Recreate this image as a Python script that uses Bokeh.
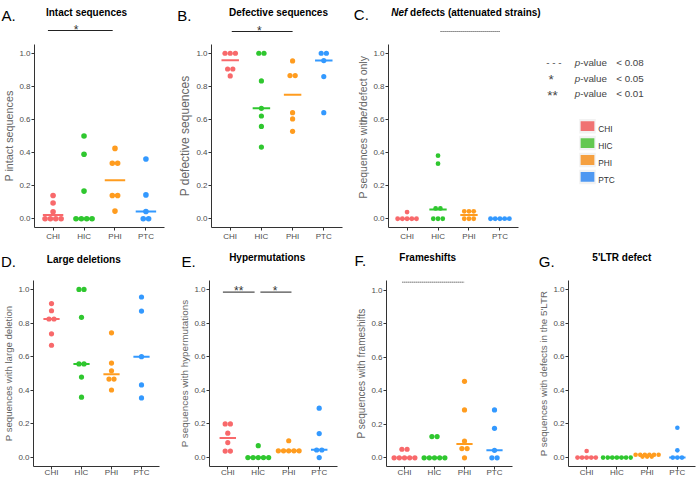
import math
from bokeh.plotting import figure
from bokeh.models import Range1d, FixedTicker, PrintfTickFormatter, Label, Arrow
from bokeh.layouts import column, row
from bokeh.embed import file_html
from bokeh.resources import INLINE
from bokeh.core.properties import value

# ---------------- data ----------------
groups = ["CHI", "HIC", "PHI", "PTC"]
group_colors = ["#F8696B", "#2FC72F", "#FF9C1F", "#3399FF"]
legend_colors = ["#F07373", "#63C850", "#F5A040", "#4E98F2"]
y_ticks = [0.0, 0.2, 0.4, 0.6, 0.8, 1.0]

intact = {
    "CHI": [0, 0, 0, 0, 0.042, 0.095, 0.14],
    "HIC": [0, 0, 0, 0, 0.167, 0.39, 0.5],
    "PHI": [0.046, 0.14, 0.14, 0.335, 0.335, 0.425],
    "PTC": [0, 0, 0.044, 0.144, 0.361],
}
intact_median = [0.022, 0.0, 0.232, 0.044]

defective = {
    "CHI": [0.863, 0.905, 0.905, 1.0, 1.0, 1.0],
    "HIC": [0.433, 0.558, 0.621, 0.667, 0.833, 1.0, 1.0],
    "PHI": [0.528, 0.603, 0.641, 0.865, 0.865, 0.954],
    "PTC": [0.641, 0.859, 0.956, 1.0, 1.0],
}
defective_median = [0.958, 0.667, 0.75, 0.956]

nef_only = {
    "CHI": [0, 0, 0, 0, 0, 0.04],
    "HIC": [0, 0, 0, 0.062, 0.062, 0.333, 0.381],
    "PHI": [0, 0, 0, 0.045, 0.045, 0.045],
    "PTC": [0, 0, 0, 0, 0],
}
nef_median = [0.0, 0.056, 0.022, 0.0]

large_deletion = {
    "CHI": [0.668, 0.736, 0.824, 0.824, 0.873, 0.916],
    "HIC": [0.359, 0.479, 0.557, 0.557, 0.834, 1.0, 1.0],
    "PHI": [0.402, 0.467, 0.467, 0.516, 0.562, 0.742],
    "PTC": [0.355, 0.432, 0.6, 0.871, 0.955],
}
large_median = [0.824, 0.557, 0.496, 0.6]

hypermutation = {
    "CHI": [0.039, 0.039, 0.089, 0.145, 0.2, 0.2],
    "HIC": [0, 0, 0, 0, 0, 0.071],
    "PHI": [0.04, 0.04, 0.04, 0.04, 0.04, 0.1],
    "PTC": [0, 0.045, 0.045, 0.143, 0.294],
}
hyper_median = [0.116, 0.0, 0.04, 0.046]

frameshift = {
    "CHI": [0, 0, 0, 0, 0, 0.051, 0.051],
    "HIC": [0, 0, 0, 0, 0, 0.127, 0.127],
    "PHI": [0, 0.055, 0.055, 0.1, 0.286, 0.457],
    "PTC": [0, 0, 0.045, 0.176, 0.286],
}
frameshift_median = [0.0, 0.0, 0.083, 0.045]

ltr_defect = {
    "CHI": [0, 0, 0, 0, 0, 0.039],
    "HIC": [0, 0, 0, 0, 0, 0, 0],
    "PHI": [0.006, 0.006, 0.006, 0.017, 0.017, 0.017, 0.017, 0.017, 0.017],
    "PTC": [0, 0, 0, 0.043, 0.177],
}
ltr_median = [0.0, 0.0, 0.012, 0.0]

# ---------------- layout helpers ----------------
FONT = "Liberation Sans"
TOP_STRIP_H = 40      # title strip above the top panels
TOP_H = 245           # total height of the top block
BOT_STRIP_H = 33
TOTAL_W, TOTAL_H = 696, 479
CL_W = 20             # width of the strip holding panel C's y label

ARIAL = {' ': 278, 'P': 667, 's': 500, 'e': 556, 'q': 556, 'u': 556, 'n': 556, 'c': 500,
         'w': 722, 'i': 222, 't': 278, 'h': 556, 'f': 278, 'd': 556, 'o': 556, 'l': 222,
         'y': 500, '-': 333, 'v': 500, 'a': 556, 'p': 556}
ARIAL_BOLD = {'N': 722, 'e': 556, 'f': 333, ' ': 278, 'd': 611, 'c': 556, 't': 333, 's': 556,
              '(': 333, 'a': 556, 'n': 611, 'u': 611, 'r': 389, 'i': 278, ')': 333}


def tw(s, table, fpx):
    return sum(table.get(ch, 556) for ch in s) / 1000.0 * fpx


def dot_positions(vals, center, step):
    counts = {}
    for v in vals:
        counts[v] = counts.get(v, 0) + 1
    xs, ys = [], []
    for v, n in counts.items():
        for k in range(n):
            xs.append(center + (k - (n - 1) / 2.0) * step)
            ys.append(v)
    return xs, ys


def make_panel(spec):
    ox, oy, W, H = spec["canvas"]
    L, T, R, B = spec["frame"]
    fl = int(round(L - ox))
    ft = int(round(T - oy))
    fw = int(round(R - L))
    fh = int(round(B - T))
    y0, y1 = spec["yr"]
    p = figure(width=W, height=H, x_range=Range1d(0.4, 4.6), y_range=Range1d(y0, y1),
               min_border_left=fl, min_border_right=W - fl - fw,
               min_border_top=ft, min_border_bottom=H - ft - fh,
               output_backend="svg", toolbar_location=None, outline_line_color=None,
               background_fill_color="white", border_fill_color="white")

    def to_data(rx, ry):
        return 0.4 + (rx - ox - fl) / fw * 4.2, y1 - (ry - oy - ft) / fh * (y1 - y0)

    def cat_x(k):  # page x of a category coordinate
        return ox + fl + (k - 0.4) / 4.2 * fw

    p.xgrid.visible = False
    p.ygrid.visible = False
    xa = p.xaxis[0]
    ya = p.yaxis[0]
    xa.ticker = FixedTicker(ticks=[i + 1 for i in range(len(groups))])
    xa.major_label_overrides = {i + 1: g for i, g in enumerate(groups)}
    ya.ticker = FixedTicker(ticks=y_ticks)
    ya.formatter = PrintfTickFormatter(format="%.1f")
    for ax in (xa, ya):
        ax.axis_line_color = "#333333"
        ax.axis_line_width = 1
        ax.major_tick_line_color = "#333333"
        ax.major_tick_out = 3
        ax.major_tick_in = 0
        ax.minor_tick_line_color = None
        ax.major_label_text_font = FONT
        ax.major_label_text_font_size = "8px"
        ax.major_label_text_color = "#4D4D4D"
        ax.major_label_standoff = 1
    xa.major_label_standoff = spec.get("xstand", 1)
    if spec.get("ylabel"):
        ya.axis_label = spec["ylabel"]
        ya.axis_label_text_font = FONT
        ya.axis_label_text_font_size = "%.1fpx" % spec["lfs"]
        ya.axis_label_text_font_style = "normal"
        ya.axis_label_text_color = "#666666"
        ya.axis_label_standoff = 1

    step = spec["dot"] / (fw / 4.2)
    mw = spec["mw"]
    for i, g in enumerate(groups):
        c = group_colors[i]
        m = spec["med"][i]
        p.segment(x0=[i + 1 - mw], x1=[i + 1 + mw], y0=[m], y1=[m], line_color=c, line_width=2)
        xs, ys = dot_positions(spec["data"][g], i + 1, step)
        p.scatter(x=xs, y=ys, size=spec["dot"], fill_color=c, line_color=None)

    # significance marks drawn inside the frame (category units, value units)
    for mk in spec.get("inner_sig", []):
        if mk[0] == "line":
            _, k0, k1, yv, dash = mk
            p.add_layout(Arrow(start=None, end=None, x_start=k0, y_start=yv, x_end=k1, y_end=yv,
                               line_color="#222222", line_width=1, line_dash=dash))
        else:
            _, k, ry, txt, fs = mk
            _, yv = to_data(0, ry)
            p.add_layout(Label(x=k, y=yv, text=txt, text_font=FONT, text_font_size="%.1fpx" % fs,
                               text_color="#333333", text_align="center", text_baseline="alphabetic"))
    return p, cat_x


# canvas = (x0, y0, width, height) in page px; frame = (left, top, right, bottom)
specs = [
    dict(data=intact, med=intact_median, ylabel="P intact sequences", lfs=10.8,
         canvas=(0, 40, 175, 205), frame=(28.5, 42, 165, 227), yr=(-0.053, 1.053), dot=5.6, mw=0.33),
    dict(data=defective, med=defective_median, ylabel="P defective sequences", lfs=12.0,
         canvas=(175, 40, 175, 205), frame=(210.5, 42.3, 341.6, 227.1), yr=(-0.053, 1.053), dot=5.2, mw=0.28),
    dict(data=nef_only, med=nef_median, ylabel=None, lfs=10.5,
         canvas=(350 + CL_W, 40, 543 - 350 - CL_W, 205), frame=(385.5, 44, 517.4, 227.7), yr=(-0.053, 1.053),
         dot=4.8, mw=0.28),
    dict(data=large_deletion, med=large_median, ylabel="P sequences with large deletion", lfs=9.6,
         canvas=(0, 278, 175, 201), frame=(28.7, 280.2, 158.5, 467.8), yr=(-0.053, 1.053), dot=5.2, mw=0.27,
         xstand=-2),
    dict(data=hypermutation, med=hyper_median, ylabel="P sequences with hypermutations", lfs=9.9,
         canvas=(175, 278, 175, 201), frame=(209.5, 278.7, 337.5, 468.6), yr=(-0.053, 1.053), dot=5.2, mw=0.27,
         xstand=-2,
         inner_sig=[("line", 0.84, 1.88, 0.984, "solid"), ("text", 1.36, 290.0, "**", 12),
                    ("line", 2.07, 3.09, 0.984, "solid"), ("text", 2.55, 290.0, "*", 12)]),
    dict(data=frameshift, med=frameshift_median, ylabel="P sequences with frameshifts", lfs=10.0,
         canvas=(350, 278, 180, 201), frame=(385.5, 279.2, 511.5, 467.5), yr=(-0.052, 1.06), dot=5.2, mw=0.27,
         xstand=-2,
         inner_sig=[("line", 0.93, 3.0, 1.05, "1 1")]),
    dict(data=ltr_defect, med=ltr_median, ylabel="P sequences with defects in the 5'LTR", lfs=9.8,
         canvas=(530, 278, 166, 201), frame=(567.8, 279.1, 694.8, 467.9), yr=(-0.053, 1.053), dot=4.6, mw=0.27,
         xstand=-2),
]

built = [make_panel(sp) for sp in specs]
pA, catA = built[0]
pB, catB = built[1]
pC, catC = built[2]
pD, pE, pF, pG = [b[0] for b in built[3:]]


def text_fig(W, H, flip=True):
    yr = Range1d(H, 0) if flip else Range1d(0, H)
    return figure(width=W, height=H, x_range=Range1d(0, W), y_range=yr,
                  x_axis_type=None, y_axis_type=None, min_border=0, output_backend="svg",
                  toolbar_location=None, outline_line_color=None)


def put(p, x, y, t, fs, style="normal", color="black", align="left"):
    p.text(x=[x], y=[y], text=[t], text_font=value(FONT), text_font_size=value("%.1fpx" % fs),
           text_font_style=value(style), text_color=color, text_align=value(align),
           text_baseline=value("alphabetic"))


# ---------------- top strip: letters, titles, comparison bars ----------------
st = text_fig(543, TOP_STRIP_H)
put(st, 1, 15, "A.", 15)
put(st, 176.7, 15, "B.", 15)
put(st, 353.3, 13.5, "C.", 15)
put(st, 86, 11.8, "Intact sequences", 10, "bold", align="center")
put(st, 278, 11.8, "Defective sequences", 10, "bold", align="center")
fT = 10.0
put(st, 390.7, 12.3, "Nef", fT, "bold italic")
put(st, 390.7 + tw("Nef ", ARIAL_BOLD, fT), 12.3, "defects (attenuated strains)", fT, "bold")
st.segment(x0=[catA(1)], x1=[catA(3)], y0=[30], y1=[30], line_color="#222222", line_width=1)
put(st, catA(1.87), 29.0, "*", 12, color="#333333", align="center")
st.segment(x0=[catB(1.05)], x1=[catB(3)], y0=[31], y1=[31], line_color="#222222", line_width=1)
put(st, catB(1.93), 30.0, "*", 12, color="#333333", align="center")
st.segment(x0=[catC(2.12)], x1=[catC(4)], y0=[31], y1=[31], line_color="#333333", line_width=1,
           line_dash="1 1")

# ---------------- y label of panel C (mixed style), rotated annotations ----------------
cl = text_fig(CL_W, 205, flip=False)
fL = specs[2]["lfs"]
parts = [("P sequences with", "normal"), ("nef", "italic"), ("defect only", "normal")]
sp_w = tw(" ", ARIAL, fL)
widths = [tw(t, ARIAL, fL) for t, _ in parts]
total = sum(widths) + sp_w * (len(parts) - 1)
yc = 205 - ((44 + 227.7) / 2.0 - 40)
off = yc - total / 2.0
for (t, sty), w in zip(parts, widths):
    cl.add_layout(Label(x=12.8, y=off, text=t, angle=math.pi / 2, text_font=FONT,
                        text_font_size="%.1fpx" % fL, text_font_style=sty, text_color="#666666",
                        text_align="left", text_baseline="alphabetic"))
    off += w + sp_w

# ---------------- legend panel ----------------
LX0 = 543
pl = text_fig(TOTAL_W - LX0, TOP_H)
fP = 9.8
put(pl, 553.3 - LX0, 62.0, "- - -", 9.8, color="#444444", align="center")
put(pl, 550.7 - LX0, 78.5, "*", 13.5, color="#444444", align="center")
put(pl, 552.0 - LX0, 95.0, "**", 13.5, color="#444444", align="center")
thresholds = ["< 0.08", "< 0.05", "< 0.01"]
for thr, ry in zip(thresholds, [62.0, 77.5, 93.0]):
    x = 574.3 - LX0
    put(pl, x, ry, "p", fP, "italic", color="#444444")
    put(pl, x + tw("p", ARIAL, fP), ry, "-value", fP, color="#444444")
    put(pl, 615.7 - LX0, ry, thr, fP, color="#444444")

kx = 587.0 - LX0
key_y = [125.7 + 16.9 * i for i in range(len(groups))]
pl.rect(x=[kx] * len(groups), y=key_y, width=16.5, height=14.5, fill_color="#F2F2F2", line_color=None)
pl.rect(x=[kx] * len(groups), y=key_y, width=13.7, height=9.8, fill_color=legend_colors, line_color=None)
pl.text(x=[597.7 - LX0] * len(groups), y=[yy + 3.0 for yy in key_y], text=groups, text_font=value(FONT),
        text_font_size=value("8.3px"), text_color="#333333", text_align=value("left"),
        text_baseline=value("alphabetic"))

# ---------------- bottom strip ----------------
sb = text_fig(TOTAL_W, BOT_STRIP_H)
BY = TOP_H
put(sb, 0.5, 261 - BY, "D.", 15)
put(sb, 181, 261 - BY, "E.", 15)
put(sb, 354, 260 - BY, "F.", 15)
put(sb, 538.3, 260.7 - BY, "G.", 15)
put(sb, 83.3, 259 - BY, "Large deletions", 10, "bold", align="center")
put(sb, 266.7, 256.7 - BY, "Hypermutations", 10, "bold", align="center")
put(sb, 427.2, 256.7 - BY, "Frameshifts", 10, "bold", align="center")
put(sb, 621.3, 256.7 - BY, "5'LTR defect", 10, "bold", align="center")

top = row(column(st, row(pA, pB, cl, pC)), pl)
bottom = column(sb, row(pD, pE, pF, pG))
layout = column(top, bottom)

open("out.html", "w").write(file_html(layout, INLINE, title="HIV proviral defects"))
